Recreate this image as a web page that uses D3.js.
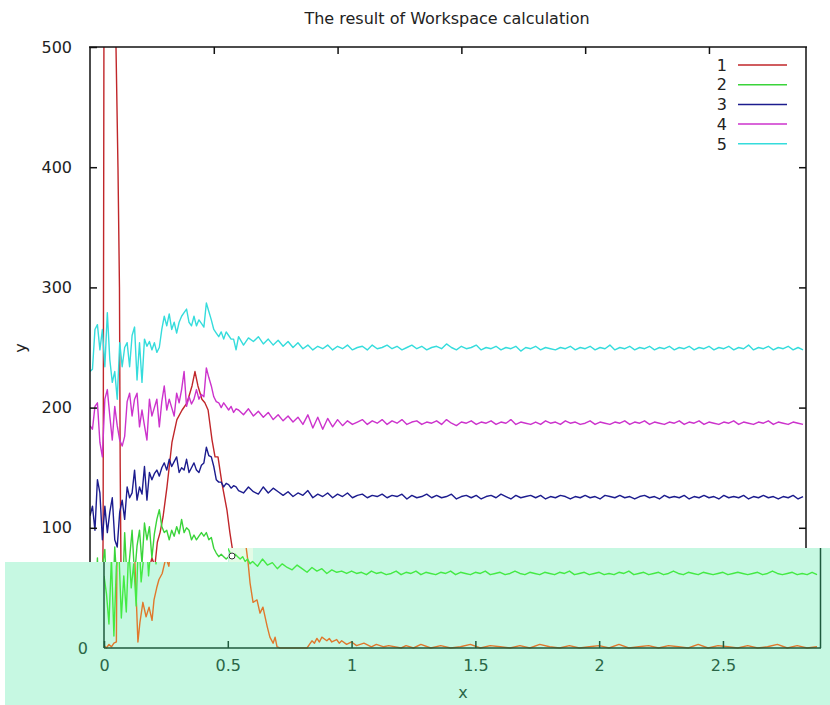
<!DOCTYPE html>
<html><head><meta charset="utf-8">
<script src="https://cdn.jsdelivr.net/npm/d3@7"></script>
<style>body{margin:0;background:#fff}svg{display:block}text{font-family:"DejaVu Sans",sans-serif}</style>
</head><body>
<svg id="chart" width="830" height="705"></svg>
<script>
const chartTitle = "The result of Workspace calculation";
const seriesNames = ["1", "2", "3", "4", "5"];
const seriesColors = ["#c0262a", "#3ad43a", "#1c1c8e", "#cc33cc", "#35dcdc"];
const overlayColors = {"1": "#e0782c", "2": "#44ea44"};
const yTickValues = [0, 100, 200, 300, 400, 500];
const xTickValues = [0, 0.5, 1, 1.5, 2, 2.5];
const xDomain = [0, 2.892];
const yDomain = [0, 500];

// sample positions (x) shared by series 2-5
const xFine = d3.range(60).map(i => i / 100);
const xCoarse = d3.range(115).map(i => +(0.6 + i * 0.02).toFixed(2));
const xGrid = xFine.concat(xCoarse);

const s5 = [230,232,265,269,248,265,234,279,240,221, 230,207,254,234,250,254,234,260,267,223,
  254,221,257,251,255,248,254,246,250,265, 276,268,278,265,271,262,271,276,279,282,
  271,268,276,268,273,270,267,287,280,273, 265,262,259,263,257,263,260,257,257,248,
  259,252,258,255,259,253,257,252,256,251, 255,250,254,249,252,248,251,249,252,248,
  251,249,252,248,250,251,248,252,249,250, 252,249,251,248,250,252,249,251,248,250,
  251,249,253,250,248,251,249,250,252,248, 250,249,251,248,250,249,251,247,250,249,
  251,248,250,249,248,250,249,251,248,250, 249,251,248,250,249,252,248,250,249,251,
  248,250,249,251,248,250,249,251,248,250, 249,251,248,250,249,251,248,250,249,251,
  248,250,249,252,248,250,249,251,248,250, 249,251,248,250,248];

const s4 = [185,182,201,204,171,159,207,215,193,173, 201,185,173,168,176,205,212,193,207,212,
  184,198,185,173,207,193,200,207,184,205, 218,198,207,200,193,212,204,215,230,201,
  209,203,207,215,207,211,209,233,225,218, 209,205,204,200,204,201,198,201,196,199,
  198,194,199,193,197,192,196,190,194,189, 193,188,192,186,194,183,192,182,191,184,
  190,185,189,186,188,190,186,189,187,190, 186,189,187,190,186,188,189,186,188,187,
  189,186,190,187,185,188,187,189,186,188, 187,189,186,188,187,190,186,188,187,186,
  188,186,189,187,188,186,189,187,188,186, 187,189,186,188,187,186,188,187,189,186,
  188,187,189,186,188,187,186,188,187,189, 186,188,187,189,186,188,187,186,188,187,
  189,186,188,187,186,188,187,189,186,188, 187,186,188,187,186];

const s3 = [110,118,98,140,129,90,118,96,113,125, 90,84,113,123,107,134,125,129,148,123,
  134,128,151,123,146,140,145,148,143,150, 154,148,157,151,155,159,146,150,148,157,
  146,150,154,148,146,152,154,167,160,159, 151,140,138,138,134,137,136,133,135,134,
  131,129,134,130,128,134,129,133,130,127, 130,126,129,127,131,125,128,126,129,125,
  128,126,129,125,127,128,125,127,126,128, 125,127,126,128,124,127,125,126,128,125,
  127,125,126,128,124,126,127,125,127,124, 126,127,125,128,126,124,127,125,126,127,
  125,127,124,126,125,127,126,124,126,125, 127,125,126,124,127,126,125,127,125,126,
  124,126,127,125,126,124,127,125,126,125, 127,124,126,125,127,125,126,124,127,125,
  126,125,127,124,126,125,127,125,126,124, 126,125,127,124,126];

const s2 = [60,45,20,75,10,68,82,25,60,30, 84,50,70,35,96,55,75,98,60,85,
  98,70,104,90,101,75,95,107,115,101, 96,98,90,98,93,101,95,107,96,100,
  98,90,94,90,93,96,93,96,90,92, 83,79,76,78,76,74,76,72,74,70,
  72,68,74,69,71,66,70,67,65,69, 66,63,67,64,66,62,65,63,64,62,
  64,62,63,61,64,62,63,61,62,64, 61,63,62,64,61,63,62,61,63,62,
  64,61,63,62,61,63,62,64,61,62, 63,61,62,64,62,61,63,62,61,63,
  62,61,63,62,64,61,62,63,61,62, 63,61,62,61,63,62,64,61,62,63,
  61,62,63,61,62,64,62,61,63,62, 61,63,62,61,62,63,61,62,63,62,
  61,62,63,61,62,64,62,61,62,63, 61,62,61,63,61];

const s1x = [0,0.01,0.02,0.03,0.04,0.05,0.053,0.057,0.075,0.09,0.105,0.113,0.119,0.122,0.125,0.137,
  0.145,0.157,0.17,0.182,0.194,0.202,0.214,0.222,0.235,0.25,0.262,0.272,0.283,0.295,0.311,0.331,
  0.351,0.372,0.392,0.412,0.424,0.436,0.452,0.464,0.477,0.493,0.505,0.517,0.533,0.553,0.565,0.574,
  0.582,0.59,0.602,0.618,0.63,0.642,0.659,0.67,0.683,0.691,0.699,0.711,0.76,0.82,0.83,0.84,0.85,
  0.86,0.87,0.88,0.9,0.91,0.92,0.94,0.95,0.96,0.98,1.0,1.02,1.05,1.08,1.1,1.13,1.15,1.2,1.22,1.25,
  1.28,1.32,1.36,1.4,1.44,1.48,1.52,1.56,1.6,1.64,1.68,1.72,1.76,1.8,1.84,1.88,1.92,1.96,2.0,2.04,
  2.08,2.12,2.16,2.2,2.24,2.28,2.32,2.36,2.4,2.44,2.48,2.52,2.56,2.6,2.64,2.68,2.72,2.76,2.8,2.84,2.88];
const s1 = [2,0,3,1,4,5,100,600,1100,1000,500,400,300,150,70,5,
  21,38,26,34,23,40,51,57,62,75,68,88,96,109,134,171,
  190,198,204,218,230,218,207,204,198,173,159,159,137,115,96,84,
  71,54,38,40,29,34,18,9,4,9,1,0,0,0,3,6,4,
  8,5,9,6,8,5,7,4,6,3,5,2,4,1,3,1,2,0,2,0,3,
  0,2,0,1,3,0,2,1,0,2,0,3,1,0,2,0,1,2,0,3,
  0,1,2,0,2,1,0,3,0,2,1,0,2,0,1,3,0,2,0,1];

const series = [
  {name: "1", xs: s1x, ys: s1},
  {name: "2", xs: xGrid, ys: s2},
  {name: "3", xs: xGrid, ys: s3},
  {name: "4", xs: xGrid, ys: s4},
  {name: "5", xs: xGrid, ys: s5}
];

const svg = d3.select("#chart");
const xTop = d3.scaleLinear().domain(xDomain).range([90, 806]);
const xOv = d3.scaleLinear().domain(xDomain).range([104, 820]);
const y = d3.scaleLinear().domain(yDomain).range([648, 47]);
const color = d3.scaleOrdinal().domain(seriesNames).range(seriesColors);

const defs = svg.append("defs");
defs.append("clipPath").attr("id", "clipTop").append("rect")
  .attr("x", 90).attr("y", 47).attr("width", 716).attr("height", 601);

// title
svg.append("text").attr("x", 447).attr("y", 24).attr("text-anchor", "middle")
  .attr("font-size", 16).attr("fill", "#222").text(chartTitle);

// top plot lines
const gTop = svg.append("g").attr("clip-path", "url(#clipTop)");
series.forEach(s => {
  const pts = s.xs.map((xv, i) => [xv, s.ys[i]]);
  gTop.append("path").datum(pts)
    .attr("fill", "none").attr("stroke", color(s.name)).attr("stroke-width", 1.4)
    .attr("stroke-linejoin", "round")
    .attr("d", d3.line().x(d => xTop(d[0])).y(d => y(d[1])));
});

// top plot frame & axes
const axisColor = "#111";
const gl = svg.append("g").attr("transform", "translate(90,0)")
  .call(d3.axisLeft(y).tickValues(yTickValues).tickSize(-7).tickPadding(18));
gl.selectAll("text").attr("font-size", 16).attr("fill", "#222");
gl.selectAll("line,path").attr("stroke", axisColor).attr("stroke-width", 1.5);
gl.select(".domain").attr("d", "M0,47V648");

const gr = svg.append("g").attr("transform", "translate(806,0)")
  .call(d3.axisRight(y).tickValues(yTickValues.filter(v => v > 0 && v < 500)).tickSize(-7).tickFormat(""));
gr.selectAll("line,path").attr("stroke", axisColor).attr("stroke-width", 1.5);
gr.select(".domain").attr("d", "M0,47V648");

const gt = svg.append("g").attr("transform", "translate(0,47)")
  .call(d3.axisTop(xTop).tickValues(xTickValues.filter(v => v > 0)).tickSize(-7).tickFormat(""));
gt.selectAll("line,path").attr("stroke", axisColor).attr("stroke-width", 1.5);
gt.select(".domain").attr("d", "M89,0H807");

// y label
svg.append("text").attr("transform", "translate(26,348) rotate(-90)")
  .attr("text-anchor", "middle").attr("font-size", 16).attr("fill", "#222").text("y");

// legend
const leg = svg.append("g");
seriesNames.forEach((n, i) => {
  const yy = 65 + i * 19.7;
  leg.append("text").attr("x", 727).attr("y", yy).attr("dy", "0.36em")
    .attr("text-anchor", "end").attr("font-size", 16).attr("fill", "#222").text(n);
  leg.append("line").attr("x1", 738).attr("x2", 787).attr("y1", yy).attr("y2", yy)
    .attr("stroke", color(n)).attr("stroke-width", 1.5);
});

// overlay (pasted lower strip)
const mintPoly = [[5,562],[228,562],[228,548],[830,548],[830,705],[5,705]];
svg.append("path").attr("d", "M" + mintPoly.map(p => p.join(",")).join("L") + "Z")
  .attr("fill", "#c6f8e2");
svg.append("rect").attr("x", 229).attr("y", 548).attr("width", 24).attr("height", 14)
  .attr("fill", "#e4fbe6");
const ovClipPoly = [[104,562],[228,562],[228,548],[820,548],[820,649],[104,649]];
defs.append("clipPath").attr("id", "clipOv").append("path")
  .attr("d", "M" + ovClipPoly.map(p => p.join(",")).join("L") + "Z");

const gOv = svg.append("g").attr("clip-path", "url(#clipOv)");
series.filter(s => overlayColors[s.name]).forEach(s => {
  const pts = s.xs.map((xv, i) => [xv, s.ys[i]]);
  gOv.append("path").datum(pts)
    .attr("fill", "none").attr("stroke", overlayColors[s.name]).attr("stroke-width", 1.4)
    .attr("stroke-linejoin", "round")
    .attr("d", d3.line().x(d => xOv(d[0])).y(d => y(d[1])));
});

const ovAxis = "#1f5a3d", ovText = "#2a6647";
const gob = svg.append("g").attr("transform", "translate(0,648)")
  .call(d3.axisBottom(xOv).tickValues(xTickValues).tickSize(-7).tickPadding(12)
    .tickFormat(d => d === 0 ? "0" : String(d)));
gob.selectAll("text").attr("font-size", 16).attr("fill", ovText);
gob.selectAll("line,path").attr("stroke", ovAxis).attr("stroke-width", 1.5);
gob.select(".domain").attr("d", "M104,0H821");
svg.append("line").attr("x1", 104).attr("x2", 104).attr("y1", 562).attr("y2", 648)
  .attr("stroke", ovAxis).attr("stroke-width", 1.5);
svg.append("line").attr("x1", 820.5).attr("x2", 820.5).attr("y1", 548).attr("y2", 648)
  .attr("stroke", ovAxis).attr("stroke-width", 1.5);
svg.append("text").attr("x", 88).attr("y", y(0)).attr("dy", "0.36em").attr("text-anchor", "end")
  .attr("font-size", 16).attr("fill", ovText).text("0");
svg.append("text").attr("x", 463).attr("y", 692).attr("dy", "0.36em").attr("text-anchor", "middle")
  .attr("font-size", 16).attr("fill", ovText).text("x");
svg.append("circle").attr("cx", 232).attr("cy", 556).attr("r", 3)
  .attr("fill", "#fff").attr("stroke", "#333").attr("stroke-width", 1);
</script>
</body></html>
